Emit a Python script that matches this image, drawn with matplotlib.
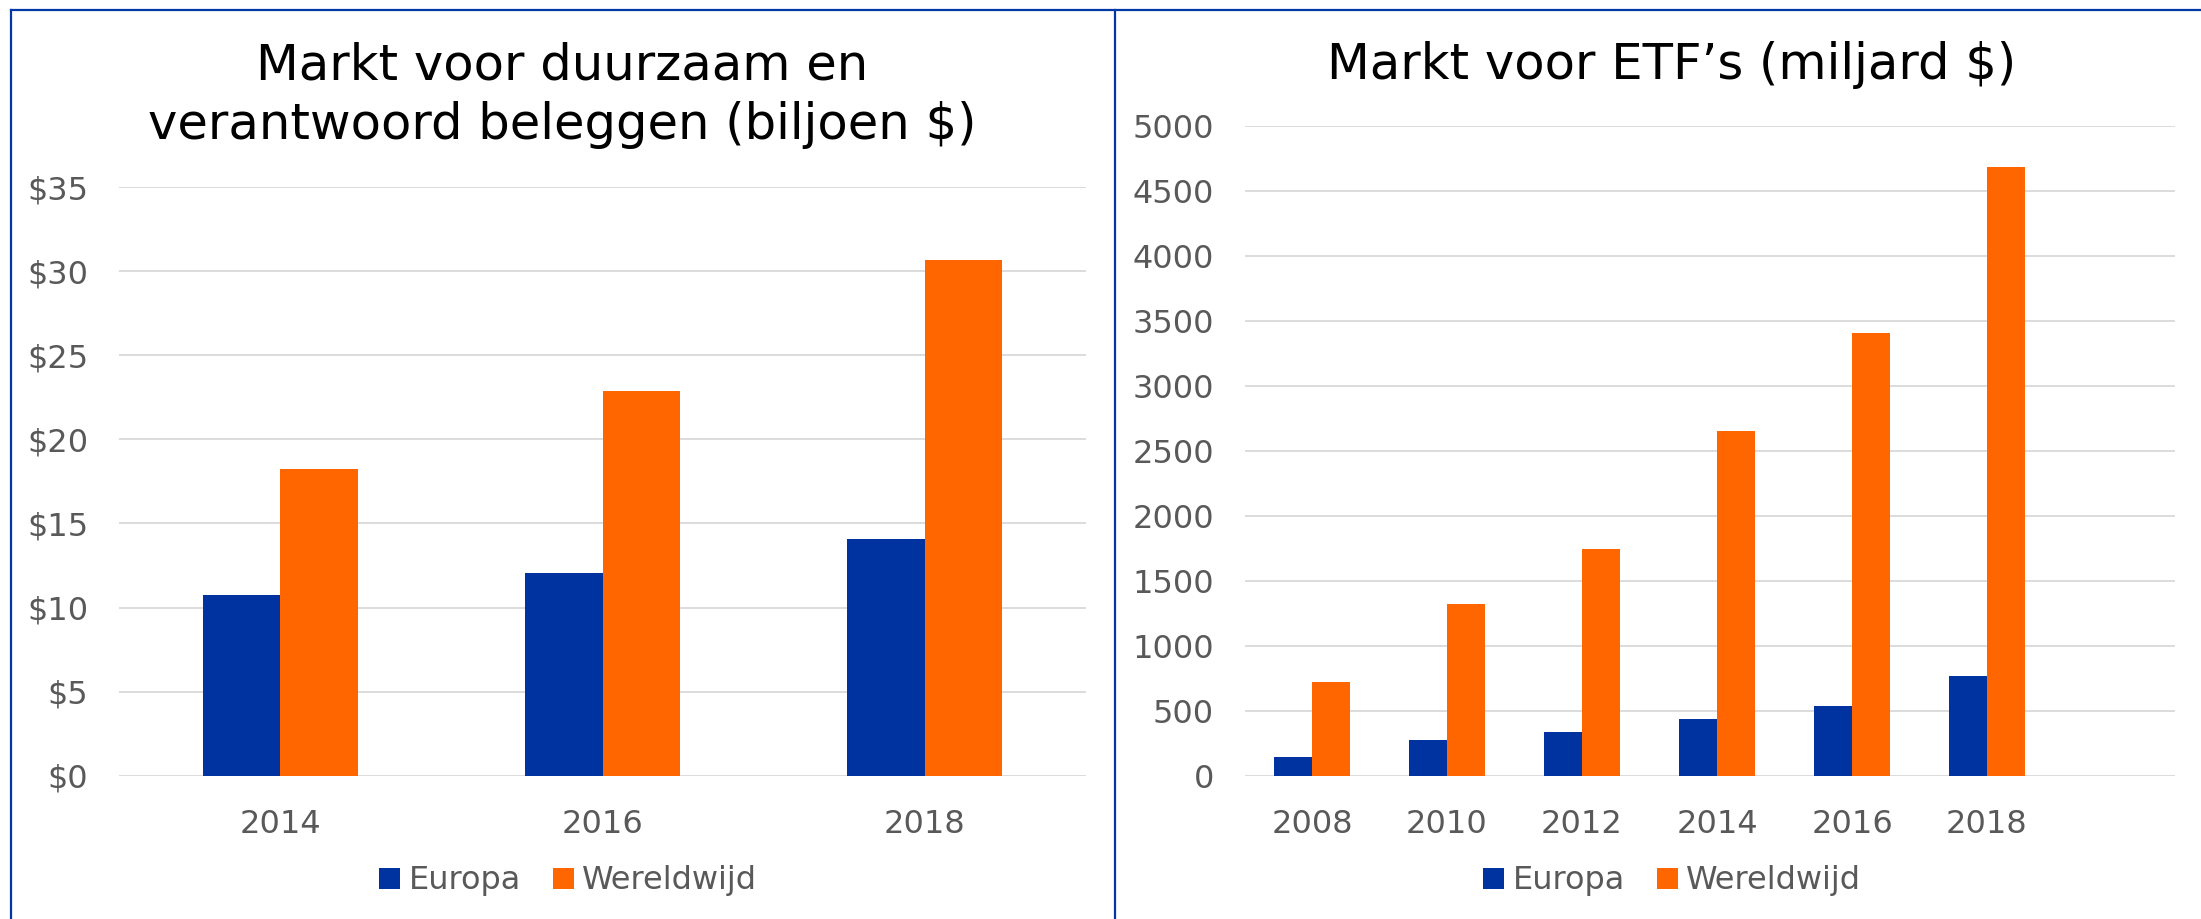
import matplotlib
matplotlib.use("Agg")
import matplotlib.pyplot as plt
from matplotlib.patches import Patch
from matplotlib.lines import Line2D
import numpy as np

# ---- data ----
esg_years = ["2014", "2016", "2018"]
esg_europa = [10.75, 12.05, 14.1]
esg_wereld = [18.25, 22.85, 30.65]

etf_years = ["2008", "2010", "2012", "2014", "2016", "2018"]
etf_europa = [147, 274, 336, 436, 539, 765]
etf_wereld = [724, 1319, 1748, 2652, 3408, 4682]

series_names = ["Europa", "Wereldwijd"]
title_left = ["Markt voor duurzaam en", "verantwoord beleggen (biljoen $)"]
title_right = "Markt voor ETF\u2019s (miljard $)"

BLUE = "#0033A0"
ORANGE = "#FF6600"
GRID = "#D9D9D9"
TXT = "#595959"
BORDER = "#0039A6"

W, H = 2201, 919
fig = plt.figure(figsize=(W / 100, H / 100), dpi=100)
plt.rcParams["font.family"] = ["DejaVu Sans"]

def fx(px):
    return px / W

def fy(py):
    return 1 - py / H

FS = 23

def style_axes(ax):
    for s in ax.spines.values():
        s.set_visible(False)
    ax.yaxis.grid(True, color=GRID, linewidth=1.3)
    ax.set_axisbelow(True)
    ax.tick_params(axis="both", length=0, labelsize=FS, labelcolor=TXT)
    ax.tick_params(axis="y", pad=22)
    ax.tick_params(axis="x", pad=24)

# ---- left chart ----
axL = fig.add_axes([fx(119), fy(775.7), fx(1086 - 119), (775.7 - 187) / H])
x = np.arange(len(esg_years))
bw = 0.24
axL.bar(x - bw / 2, esg_europa, bw, color=BLUE)
axL.bar(x + bw / 2, esg_wereld, bw, color=ORANGE)
axL.set_xlim(-0.5, len(esg_years) - 0.5)
axL.set_ylim(0, 35)
axL.set_yticks(np.arange(0, 36, 5))
axL.set_yticklabels(["${:.0f}".format(v) for v in np.arange(0, 36, 5)])
axL.set_xticks(x)
axL.set_xticklabels(esg_years)
style_axes(axL)

# ---- right chart ----
slot = 135.0
left_px = 1244.5
right_px = 2175.0
axR = fig.add_axes([fx(left_px), fy(775.7), fx(right_px - left_px), (775.7 - 126) / H])
x2 = np.arange(len(etf_years))
bw2 = 0.28
axR.bar(x2 - bw2 / 2, etf_europa, bw2, color=BLUE)
axR.bar(x2 + bw2 / 2, etf_wereld, bw2, color=ORANGE)
axR.set_xlim(-0.5, -0.5 + (right_px - left_px) / slot)
axR.set_ylim(0, 5000)
axR.set_yticks(np.arange(0, 5001, 500))
axR.set_xticks(x2)
axR.set_xticklabels(etf_years)
style_axes(axR)

# ---- titles ----
TFS = 35.7
fig.text(fx(562), fy(80), title_left[0], ha="center", va="baseline", fontsize=TFS, color="black")
fig.text(fx(562), fy(139), title_left[1], ha="center", va="baseline", fontsize=TFS, color="black")
fig.text(fx(1672), fy(79), title_right, ha="center", va="baseline", fontsize=TFS, color="black")

# ---- legends ----
handles = [Patch(facecolor=BLUE), Patch(facecolor=ORANGE)]
for cx in (568, 1672):
    fig.legend(handles, series_names, loc="center", bbox_to_anchor=(fx(cx), fy(881)),
               ncol=2, frameon=False, fontsize=FS, labelcolor=TXT,
               handlelength=0.66, handleheight=0.66, handletextpad=0.25,
               columnspacing=1.0, borderpad=0)

# ---- panel borders ----
lw = 1.6
fig.add_artist(Line2D([fx(11), 1], [fy(10), fy(10)], color=BORDER, linewidth=lw))
fig.add_artist(Line2D([fx(11), fx(11)], [0, fy(10)], color=BORDER, linewidth=lw))
fig.add_artist(Line2D([fx(1115), fx(1115)], [0, fy(10)], color=BORDER, linewidth=lw))

fig.savefig("out.png", dpi=100, facecolor="white")
